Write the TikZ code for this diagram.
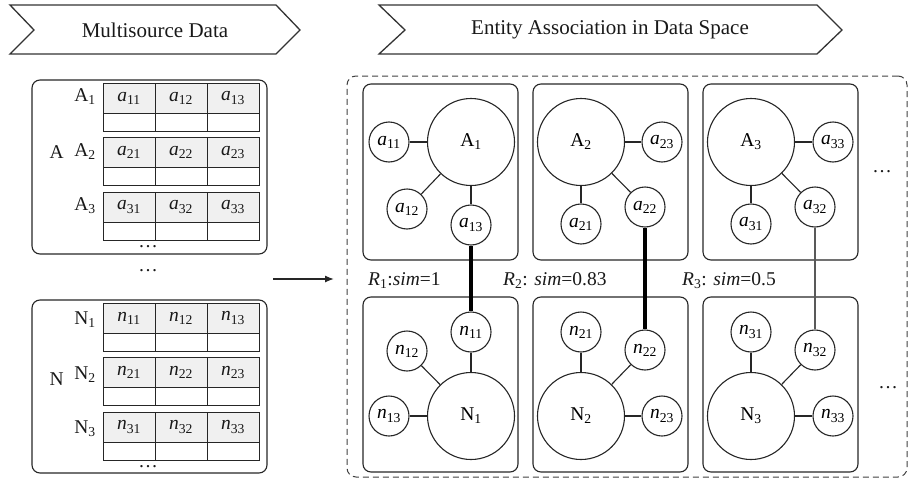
\documentclass[tikz,border=0pt]{standalone}
\usepackage{fontspec}
\setmainfont{Liberation Serif}
\usetikzlibrary{arrows.meta}
\begin{document}
\begin{tikzpicture}[x=1pt,y=-1pt,
  lab/.style={font=\fontsize{19.5}{22}\selectfont, inner sep=0pt, text=black!90},
  head/.style={font=\fontsize{21}{24}\selectfont, inner sep=0pt, text=black!90},
  chev/.style={draw=black!80, line width=1.3pt, line join=miter},
  rbox/.style={draw=black!85, line width=1.1pt, rounded corners=8pt, minimum width=155pt, minimum height=176pt, inner sep=0pt},
  srcbox/.style={draw=black!85, line width=1.1pt, rounded corners=8pt, minimum width=235pt, inner sep=0pt},
  frame/.style={draw=black!75, line width=1pt, dash pattern=on 6pt off 4pt, rounded corners=9pt, minimum width=560pt, minimum height=401pt, inner sep=0pt},
  big/.style={circle, draw=black!85, line width=1.1pt, minimum size=87pt, inner sep=0pt, font=\fontsize{19.5}{22}\selectfont},
  small/.style={circle, draw=black!85, line width=1.1pt, minimum size=40pt, inner sep=0pt, font=\fontsize{19.5}{22}\selectfont},
  link/.style={draw=black!85, line width=1.1pt},
  strong/.style={draw=black, line width=4pt},
  weak/.style={draw=black!65, line width=1.2pt},
  cellg/.style={fill=black!6},
  grid/.style={draw=black!85, line width=1pt},
]
\useasboundingbox (0,0) rectangle (910,479);

% headers
\draw[chev] (10,5) -- (276,5) -- (300,30) -- (276,54) -- (10,54) -- (34,30) -- cycle;
\node[head] (h1) at (155,30) {Multisource Data};
\draw[chev] (379,5) -- (817,5) -- (842,30) -- (817,54) -- (379,54) -- (405,30) -- cycle;
\node[head] (h2) at (610,30) {Entity Association in Data Space};

% source boxes
\node[srcbox, minimum height=174pt] (srcA) at (149.5,167) {};
\node[srcbox, minimum height=173pt] (srcN) at (149.5,386.5) {};

\foreach \i/\yt in {1/83,2/137.5,3/192}{
  \fill[cellg] (103,\yt) rectangle (259,\yt+30);
  \draw[grid] (103,\yt) rectangle (259,\yt+48);
  \draw[grid] (103,\yt+30) -- (259,\yt+30);
  \draw[grid] (155,\yt) -- (155,\yt+48);
  \draw[grid] (207,\yt) -- (207,\yt+48);
  \node[lab, anchor=east] (Al\i) at (96,\yt+14) {A\textsubscript{\i}};
  \foreach \j in {1,2,3}
    \node[lab] (ta\i\j) at ({129+52*(\j-1)},\yt+15) {\textit{a}\textsubscript{\i\j}};
}
\foreach \i/\yt in {1/303,2/357.5,3/412}{
  \fill[cellg] (103,\yt) rectangle (259,\yt+30);
  \draw[grid] (103,\yt) rectangle (259,\yt+48);
  \draw[grid] (103,\yt+30) -- (259,\yt+30);
  \draw[grid] (155,\yt) -- (155,\yt+48);
  \draw[grid] (207,\yt) -- (207,\yt+48);
  \node[lab, anchor=east] (Nl\i) at (96,\yt+17) {N\textsubscript{\i}};
  \foreach \j in {1,2,3}
    \node[lab] (tn\i\j) at ({129+52*(\j-1)},\yt+15) {\textit{n}\textsubscript{\i\j}};
}
\node[lab, anchor=east] (grpA) at (64,152) {A};
\node[lab, anchor=east] (grpN) at (64,379) {N};
\node[lab] (dA) at (148,247) {\dots};
\node[lab] (dN) at (148,467) {\dots};
\node[lab] (dmid) at (148,271) {\dots};

% arrow
\coordinate (arrS) at (273,279);
\coordinate (arrE) at (334,279);
\draw[-{Latex[length=9pt,width=7pt]}, line width=1.3pt, black!85] (arrS) -- (arrE);

% data space
\node[frame] (space) at (627,276.5) {};
\node[rbox] (bA1) at (440.5,172) {};
\node[rbox] (bA2) at (610.5,172) {};
\node[rbox] (bA3) at (780.5,172) {};
\node[rbox, minimum height=175pt] (bN1) at (440.5,384.5) {};
\node[rbox, minimum height=175pt] (bN2) at (610.5,384.5) {};
\node[rbox, minimum height=175pt] (bN3) at (780.5,384.5) {};

% entity A1
\node[big] (A1) at (471,142) {A\textsubscript{1}};
\node[small] (a11) at (389,142) {\textit{a}\textsubscript{11}};
\node[small] (a12) at (407,209) {\textit{a}\textsubscript{12}};
\node[small] (a13) at (471,225) {\textit{a}\textsubscript{13}};
% entity A2
\node[big] (A2) at (581,142) {A\textsubscript{2}};
\node[small] (a21) at (581,224) {\textit{a}\textsubscript{21}};
\node[small] (a22) at (645,207) {\textit{a}\textsubscript{22}};
\node[small] (a23) at (662,142) {\textit{a}\textsubscript{23}};
% entity A3
\node[big] (A3) at (751,142) {A\textsubscript{3}};
\node[small] (a31) at (751,224) {\textit{a}\textsubscript{31}};
\node[small] (a32) at (815,207) {\textit{a}\textsubscript{32}};
\node[small] (a33) at (833,142) {\textit{a}\textsubscript{33}};
% entity N1
\node[big] (N1) at (471,416) {N\textsubscript{1}};
\node[small] (n11) at (471,332) {\textit{n}\textsubscript{11}};
\node[small] (n12) at (407,351) {\textit{n}\textsubscript{12}};
\node[small] (n13) at (389,416) {\textit{n}\textsubscript{13}};
% entity N2
\node[big] (N2) at (581,416) {N\textsubscript{2}};
\node[small] (n21) at (581,332) {\textit{n}\textsubscript{21}};
\node[small] (n22) at (645,350) {\textit{n}\textsubscript{22}};
\node[small] (n23) at (662,416) {\textit{n}\textsubscript{23}};
% entity N3
\node[big] (N3) at (751,416) {N\textsubscript{3}};
\node[small] (n31) at (751,332) {\textit{n}\textsubscript{31}};
\node[small] (n32) at (815,350) {\textit{n}\textsubscript{32}};
\node[small] (n33) at (833,416) {\textit{n}\textsubscript{33}};

\foreach \k in {1,2,3}{
  \foreach \m in {1,2,3}{
    \draw[link] (A\k) -- (a\k\m);
    \draw[link] (N\k) -- (n\k\m);
  }
}

% associations
\draw[strong] (a13) -- (n11);
\draw[strong] (a22) -- (n22);
\draw[weak] (a32) -- (n32);

\node[lab, anchor=base west] (R1) at (368,285) {\textit{R}\textsubscript{1}:\textit{sim}=1};
\node[lab, anchor=base west] (R2) at (503,285) {\textit{R}\textsubscript{2}: \textit{sim}=0.83};
\node[lab, anchor=base west] (R3) at (682,285) {\textit{R}\textsubscript{3}: \textit{sim}=0.5};

\node[lab] (dr1) at (882,172) {\dots};
\node[lab] (dr2) at (888,388) {\dots};
\end{tikzpicture}
\end{document}
